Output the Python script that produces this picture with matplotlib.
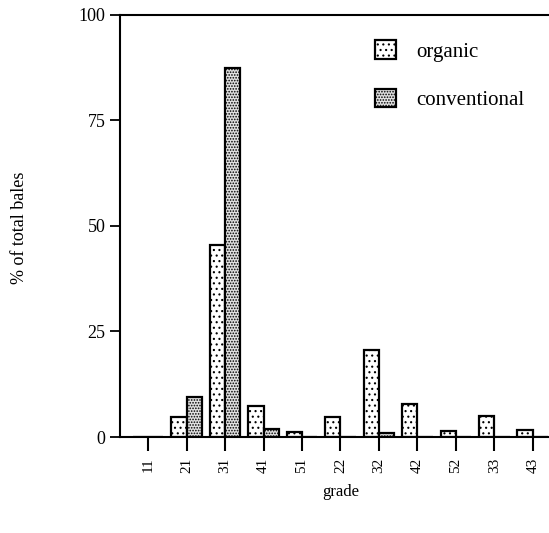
import numpy as np
import matplotlib
matplotlib.use("Agg")
import matplotlib.pyplot as plt

plt.rcParams['font.family'] = ['Liberation Serif', 'DejaVu Serif']
plt.rcParams['hatch.linewidth'] = 0.8

grades = ["11", "21", "31", "41", "51", "22", "32", "42", "52", "33", "43"]
organic = [0, 4.7, 45.5, 7.3, 1.2, 4.8, 20.6, 7.8, 1.5, 5.0, 1.6]
conventional = [0, 9.5, 87.4, 2.0, 0, 0, 1.0, 0, 0, 0, 0]

x = np.arange(len(grades))
w = 0.4

fig = plt.figure(figsize=(5.49, 5.33), dpi=100)
ax = fig.add_axes([0.2186, 0.1801, 0.7814, 0.7918])

ax.bar(x - w / 2, organic, w, facecolor='white', edgecolor='black',
       linewidth=1.6, hatch='...', label='organic')
ax.bar(x + w / 2, conventional, w, facecolor='#e2e2e2', edgecolor='black',
       linewidth=1.6, hatch='......', label='conventional')

ax.set_xlim(-0.73, 10.42)
ax.set_ylim(0, 100)
ax.set_yticks([0, 25, 50, 75, 100])
ax.set_xticks(x)
ax.set_xticklabels(grades, rotation=90)

ax.spines['right'].set_visible(False)
for s in ['left', 'top', 'bottom']:
    ax.spines[s].set_linewidth(1.5)
ax.tick_params(axis='y', length=7, width=1.3, labelsize=13, direction='out')
ax.tick_params(axis='x', length=10, width=1.5, labelsize=11, direction='out',
               pad=5)

fig.text(0.035, 0.572, '% of total bales', rotation=90, ha='center',
         va='center', fontsize=13)
fig.text(0.62, 0.077, 'grade', ha='center', va='center', fontsize=12)

ax.legend(loc='upper left', bbox_to_anchor=(0.594, 0.94), frameon=False,
          borderpad=0, borderaxespad=0, handlelength=1.0, handleheight=1.0,
          labelspacing=1.3, handletextpad=1.0, fontsize=15)

fig.savefig('out.png', dpi=100)
